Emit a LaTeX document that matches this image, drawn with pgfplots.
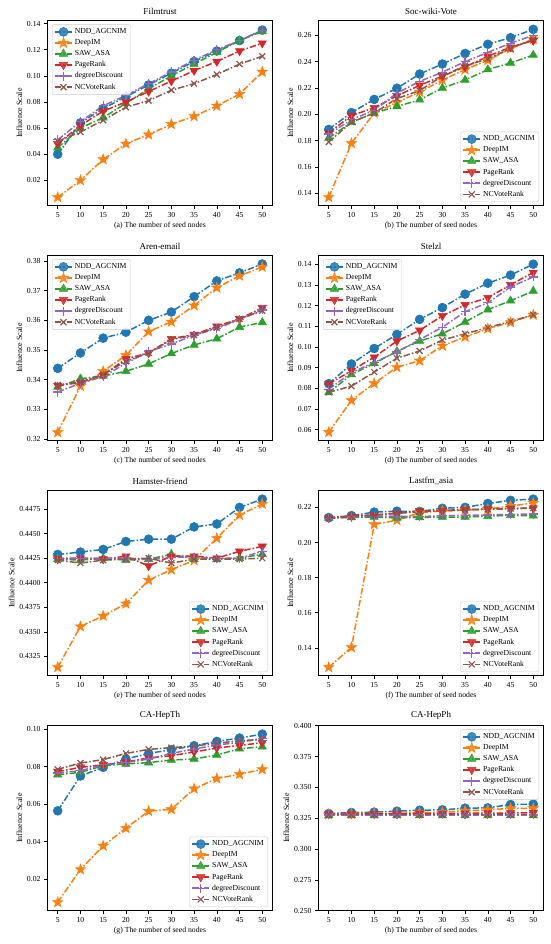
\documentclass[border=0pt]{standalone}
\usepackage{fontspec}
\setmainfont{Liberation Serif}
\usepackage{pgfplots}
\pgfplotsset{compat=1.18}
\usepgfplotslibrary{groupplots}
\usetikzlibrary{calc,plotmarks}
\definecolor{c0}{HTML}{1F77B4}
\definecolor{c1}{HTML}{FF7F0E}
\definecolor{c2}{HTML}{2CA02C}
\definecolor{c3}{HTML}{D62728}
\definecolor{c4}{HTML}{9467BD}
\definecolor{c5}{HTML}{8C564B}
\pgfdeclareplotmark{fstar}{%
  \pgfpathmoveto{\pgfpointpolar{90}{1.25\pgfplotmarksize}}%
  \pgfpathlineto{\pgfpointpolar{126}{0.5\pgfplotmarksize}}%
  \pgfpathlineto{\pgfpointpolar{162}{1.25\pgfplotmarksize}}%
  \pgfpathlineto{\pgfpointpolar{198}{0.5\pgfplotmarksize}}%
  \pgfpathlineto{\pgfpointpolar{234}{1.25\pgfplotmarksize}}%
  \pgfpathlineto{\pgfpointpolar{270}{0.5\pgfplotmarksize}}%
  \pgfpathlineto{\pgfpointpolar{306}{1.25\pgfplotmarksize}}%
  \pgfpathlineto{\pgfpointpolar{342}{0.5\pgfplotmarksize}}%
  \pgfpathlineto{\pgfpointpolar{18}{1.25\pgfplotmarksize}}%
  \pgfpathlineto{\pgfpointpolar{54}{0.5\pgfplotmarksize}}%
  \pgfpathclose\pgfusepathqfillstroke}
\tikzset{dd/.style={line width=1.5pt, dash pattern=on 6.5pt off 2pt on 1.5pt off 2pt}}
\pgfplotsset{
  sA/.style={c0, dd, mark=*, mark size=4.5pt, mark options={solid, fill=c0, line width=0.5pt}},
  sB/.style={c1, dd, mark=fstar, mark size=4.4pt, mark options={solid, fill=c1, line width=0.5pt}},
  sC/.style={c2, dd, mark=triangle*, mark size=4.8pt, mark options={solid, fill=c2, line width=0.5pt}},
  sD/.style={c3, dd, mark=triangle*, mark size=4.8pt, mark options={solid, fill=c3, rotate=180, line width=0.5pt}},
  sE/.style={c4, dd, mark=+, mark size=4.5pt, mark options={solid, line width=1.2pt}},
  sF/.style={c5, dd, mark=x, mark size=4.2pt, mark options={solid, line width=1.2pt}},
  lnw/.style={legend style={at={(0.02,0.98)}, anchor=north west}},
  lse/.style={legend style={at={(0.98,0.02)}, anchor=south east}},
  lne/.style={legend style={at={(0.98,0.98)}, anchor=north east}},
  prec/.style={yticklabel style={/pgf/number format/.cd, fixed, fixed zerofill, precision=#1}},
}
\begin{document}
\begin{tikzpicture}[font=\fontsize{7.7}{9}\selectfont]
\begin{groupplot}[
  group style={group size=2 by 4, horizontal sep=46pt, vertical sep=50pt},
  width=225pt, height=185pt, scale only axis,
  xmin=2.75, xmax=52.25, xtick={5,10,...,50},
  tick align=outside, tick pos=left, major tick length=3.5pt,
  every tick/.style={black, line width=0.6pt},
  axis line style={line width=0.7pt},
  ticklabel style={font=\fontsize{7.7}{9}\selectfont},
  /pgf/number format/assume math mode=true,
  scaled y ticks=false,
  title style={font=\fontsize{9}{10}\selectfont, yshift=-3pt},
  xlabel style={font=\fontsize{7.7}{9}\selectfont, yshift=3pt},
  ylabel style={font=\fontsize{8}{9}\selectfont, yshift=-2pt},
  ylabel={Influence Scale},
  legend style={font=\fontsize{7.7}{9}\selectfont, draw=black!20, rounded corners=2pt,
    fill=white, fill opacity=0.85, text opacity=1, inner sep=2pt, row sep=0.3pt,
    cells={anchor=west}},
  legend cell align=left,
]
% (a) Filmtrust
\nextgroupplot[title={Filmtrust}, xlabel={(a) The number of seed nodes}, ymin=0.0006, ymax=0.1422,
  ytick={0.02,0.04,...,0.141}, prec=2, lnw]
\addplot[sA] coordinates {(5,0.040)(10,0.064)(15,0.075)(20,0.084)(25,0.093)(30,0.102)(35,0.111)(40,0.119)(45,0.127)(50,0.135)};
\addplot[sB] coordinates {(5,0.007)(10,0.020)(15,0.036)(20,0.048)(25,0.055)(30,0.063)(35,0.069)(40,0.077)(45,0.086)(50,0.103)};
\addplot[sC] coordinates {(5,0.045)(10,0.060)(15,0.068)(20,0.079)(25,0.090)(30,0.100)(35,0.109)(40,0.118)(45,0.127)(50,0.134)};
\addplot[sD] coordinates {(5,0.048)(10,0.062)(15,0.073)(20,0.080)(25,0.088)(30,0.096)(35,0.104)(40,0.111)(45,0.119)(50,0.125)};
\addplot[sE] coordinates {(5,0.051)(10,0.065)(15,0.077)(20,0.085)(25,0.094)(30,0.103)(35,0.112)(40,0.120)(45,0.127)(50,0.135)};
\addplot[sF] coordinates {(5,0.050)(10,0.057)(15,0.066)(20,0.076)(25,0.081)(30,0.089)(35,0.094)(40,0.101)(45,0.109)(50,0.115)};
\legend{NDD\_AGCNIM,DeepIM,SAW\_ASA,PageRank,degreeDiscount,NCVoteRank}
% (b) Soc-wiki-Vote
\nextgroupplot[title={Soc-wiki-Vote}, xlabel={(b) The number of seed nodes}, ymin=0.1306, ymax=0.2711,
  ytick={0.14,0.16,...,0.261}, prec=2, lse]
\addplot[sA] coordinates {(5,0.1885)(10,0.2013)(15,0.2113)(20,0.2198)(25,0.2306)(30,0.2382)(35,0.2462)(40,0.2532)(45,0.2582)(50,0.2645)};
\addplot[sB] coordinates {(5,0.137)(10,0.178)(15,0.201)(20,0.209)(25,0.217)(30,0.226)(35,0.234)(40,0.241)(45,0.250)(50,0.257)};
\addplot[sC] coordinates {(5,0.182)(10,0.194)(15,0.201)(20,0.206)(25,0.211)(30,0.220)(35,0.226)(40,0.234)(45,0.239)(50,0.245)};
\addplot[sD] coordinates {(5,0.186)(10,0.199)(15,0.205)(20,0.214)(25,0.222)(30,0.229)(35,0.236)(40,0.244)(45,0.251)(50,0.256)};
\addplot[sE] coordinates {(5,0.185)(10,0.196)(15,0.203)(20,0.216)(25,0.225)(30,0.232)(35,0.240)(40,0.247)(45,0.254)(50,0.260)};
\addplot[sF] coordinates {(5,0.179)(10,0.194)(15,0.201)(20,0.212)(25,0.218)(30,0.229)(35,0.237)(40,0.242)(45,0.250)(50,0.257)};
\legend{NDD\_AGCNIM,DeepIM,SAW\_ASA,PageRank,degreeDiscount,NCVoteRank}
% (c) Aren-email
\nextgroupplot[title={Aren-email}, xlabel={(c) The number of seed nodes}, ymin=0.3194, ymax=0.3818,
  ytick={0.32,0.33,...,0.381}, prec=2, lnw]
\addplot[sA] coordinates {(5,0.3438)(10,0.3490)(15,0.3540)(20,0.3560)(25,0.3600)(30,0.3628)(35,0.3680)(40,0.3733)(45,0.3760)(50,0.3790)};
\addplot[sB] coordinates {(5,0.3222)(10,0.3378)(15,0.3428)(20,0.3482)(25,0.3562)(30,0.3595)(35,0.3650)(40,0.3710)(45,0.3750)(50,0.3780)};
\addplot[sC] coordinates {(5,0.3375)(10,0.3403)(15,0.3412)(20,0.3428)(25,0.3453)(30,0.3488)(35,0.3517)(40,0.3538)(45,0.3577)(50,0.3593)};
\addplot[sD] coordinates {(5,0.3380)(10,0.3390)(15,0.3415)(20,0.3470)(25,0.3490)(30,0.3538)(35,0.3552)(40,0.3580)(45,0.3605)(50,0.3642)};
\addplot[sE] coordinates {(5,0.3358)(10,0.3388)(15,0.3410)(20,0.3455)(25,0.3495)(30,0.3520)(35,0.3550)(40,0.3572)(45,0.3603)(50,0.3635)};
\addplot[sF] coordinates {(5,0.3382)(10,0.3392)(15,0.3418)(20,0.3462)(25,0.3490)(30,0.3535)(35,0.3550)(40,0.3575)(45,0.3605)(50,0.3632)};
\legend{NDD\_AGCNIM,DeepIM,SAW\_ASA,PageRank,degreeDiscount,NCVoteRank}
% (d) Stelzl
\nextgroupplot[title={Stelzl}, xlabel={(d) The number of seed nodes}, ymin=0.0546, ymax=0.1441,
  ytick={0.06,0.07,...,0.141}, prec=2, lnw]
\addplot[sA] coordinates {(5,0.0822)(10,0.0917)(15,0.0992)(20,0.1060)(25,0.1133)(30,0.1190)(35,0.1255)(40,0.1308)(45,0.1347)(50,0.1400)};
\addplot[sB] coordinates {(5,0.0587)(10,0.0741)(15,0.0823)(20,0.0901)(25,0.0933)(30,0.1005)(35,0.1048)(40,0.1088)(45,0.1118)(50,0.1155)};
\addplot[sC] coordinates {(5,0.0779)(10,0.0866)(15,0.0920)(20,0.0978)(25,0.1028)(30,0.1063)(35,0.1120)(40,0.1180)(45,0.1223)(50,0.1270)};
\addplot[sD] coordinates {(5,0.0820)(10,0.0885)(15,0.0950)(20,0.1028)(25,0.1080)(30,0.1150)(35,0.1203)(40,0.1238)(45,0.1300)(50,0.1360)};
\addplot[sE] coordinates {(5,0.0795)(10,0.0875)(15,0.0925)(20,0.0975)(25,0.1035)(30,0.1095)(35,0.1170)(40,0.1213)(45,0.1290)(50,0.1338)};
\addplot[sF] coordinates {(5,0.0780)(10,0.0810)(15,0.0878)(20,0.0945)(25,0.0980)(30,0.1033)(35,0.1063)(40,0.1093)(45,0.1123)(50,0.1155)};
\legend{NDD\_AGCNIM,DeepIM,SAW\_ASA,PageRank,degreeDiscount,NCVoteRank}
% (e) Hamster-friend
\nextgroupplot[title={Hamster-friend}, xlabel={(e) The number of seed nodes}, ymin=0.43053, ymax=0.44937,
  ytick={0.4325,0.4350,0.4375,0.4400,0.4425,0.4450,0.4475}, prec=4, lse]
\addplot[sA] coordinates {(5,0.44288)(10,0.44312)(15,0.44339)(20,0.44420)(25,0.44443)(30,0.44443)(35,0.44568)(40,0.44598)(45,0.44767)(50,0.44851)};
\addplot[sB] coordinates {(5,0.43139)(10,0.43554)(15,0.43662)(20,0.43786)(25,0.44026)(30,0.44133)(35,0.44228)(40,0.44453)(45,0.44689)(50,0.44801)};
\addplot[sC] coordinates {(5,0.4424)(10,0.4423)(15,0.4425)(20,0.4423)(25,0.4424)(30,0.4429)(35,0.4424)(40,0.4424)(45,0.4425)(50,0.4429)};
\addplot[sD] coordinates {(5,0.4424)(10,0.4425)(15,0.4424)(20,0.4427)(25,0.4417)(30,0.4427)(35,0.4427)(40,0.4425)(45,0.4432)(50,0.4437)};
\addplot[sE] coordinates {(5,0.4425)(10,0.4425)(15,0.4425)(20,0.4425)(25,0.4424)(30,0.4426)(35,0.4426)(40,0.4425)(45,0.4425)(50,0.4432)};
\addplot[sF] coordinates {(5,0.4423)(10,0.4420)(15,0.4423)(20,0.4424)(25,0.4425)(30,0.4420)(35,0.4424)(40,0.4424)(45,0.4424)(50,0.4425)};
\legend{NDD\_AGCNIM,DeepIM,SAW\_ASA,PageRank,degreeDiscount,NCVoteRank}
% (f) Lastfm_asia
\nextgroupplot[title={Lastfm\_asia}, xlabel={(f) The number of seed nodes}, ymin=0.1242, ymax=0.2295,
  ytick={0.14,0.16,...,0.221}, prec=2, lse]
\addplot[sA] coordinates {(5,0.2142)(10,0.2153)(15,0.2173)(20,0.2178)(25,0.2177)(30,0.2195)(35,0.2200)(40,0.2222)(45,0.2240)(50,0.2247)};
\addplot[sB] coordinates {(5,0.1290)(10,0.1403)(15,0.2103)(20,0.2127)(25,0.2170)(30,0.2180)(35,0.2185)(40,0.2190)(45,0.2208)(50,0.2225)};
\addplot[sC] coordinates {(5,0.2140)(10,0.2143)(15,0.2145)(20,0.2140)(25,0.2143)(30,0.2145)(35,0.2145)(40,0.2150)(45,0.2155)(50,0.2152)};
\addplot[sD] coordinates {(5,0.2140)(10,0.2150)(15,0.2158)(20,0.2165)(25,0.2180)(30,0.2180)(35,0.2185)(40,0.2190)(45,0.2193)(50,0.2195)};
\addplot[sE] coordinates {(5,0.2137)(10,0.2145)(15,0.2150)(20,0.2150)(25,0.2148)(30,0.2152)(35,0.2155)(40,0.2157)(45,0.2160)(50,0.2162)};
\addplot[sF] coordinates {(5,0.2138)(10,0.2148)(15,0.2155)(20,0.2168)(25,0.2175)(30,0.2183)(35,0.2188)(40,0.2190)(45,0.2193)(50,0.2197)};
\legend{NDD\_AGCNIM,DeepIM,SAW\_ASA,PageRank,degreeDiscount,NCVoteRank}
% (g) CA-HepTh
\nextgroupplot[title={CA-HepTh}, xlabel={(g) The number of seed nodes}, ymin=0.0031, ymax=0.1018,
  ytick={0.02,0.04,...,0.101}, prec=2, lse]
\addplot[sA] coordinates {(5,0.0564)(10,0.0750)(15,0.0796)(20,0.0840)(25,0.0870)(30,0.0890)(35,0.0911)(40,0.0934)(45,0.0952)(50,0.0973)};
\addplot[sB] coordinates {(5,0.0076)(10,0.0251)(15,0.0377)(20,0.0471)(25,0.0562)(30,0.0572)(35,0.0682)(40,0.0736)(45,0.0759)(50,0.0785)};
\addplot[sC] coordinates {(5,0.0757)(10,0.0769)(15,0.0805)(20,0.0814)(25,0.0821)(30,0.0835)(35,0.0840)(40,0.0862)(45,0.0895)(50,0.0906)};
\addplot[sD] coordinates {(5,0.0773)(10,0.0796)(15,0.0809)(20,0.0825)(25,0.0846)(30,0.0858)(35,0.0878)(40,0.0899)(45,0.0913)(50,0.0927)};
\addplot[sE] coordinates {(5,0.0766)(10,0.0778)(15,0.0809)(20,0.0821)(25,0.0840)(30,0.0870)(35,0.0894)(40,0.0915)(45,0.0929)(50,0.0950)};
\addplot[sF] coordinates {(5,0.0785)(10,0.0819)(15,0.0837)(20,0.0870)(25,0.0892)(30,0.0901)(35,0.0910)(40,0.0924)(45,0.0938)(50,0.0945)};
\legend{NDD\_AGCNIM,DeepIM,SAW\_ASA,PageRank,degreeDiscount,NCVoteRank}
% (h) CA-HepPh
\nextgroupplot[title={CA-HepPh}, xlabel={(h) The number of seed nodes}, ymin=0.25, ymax=0.40,
  ytick={0.250,0.275,0.300,0.325,0.350,0.375,0.400}, prec=3, lne]
\addplot[sA] coordinates {(5,0.3288)(10,0.3296)(15,0.3299)(20,0.3307)(25,0.3315)(30,0.3318)(35,0.3331)(40,0.3334)(45,0.3361)(50,0.3364)};
\addplot[sB] coordinates {(5,0.3280)(10,0.3285)(15,0.3288)(20,0.3290)(25,0.3295)(30,0.3300)(35,0.3310)(40,0.3318)(45,0.3330)(50,0.3330)};
\addplot[sC] coordinates {(5,0.3273)(10,0.3273)(15,0.3273)(20,0.3273)(25,0.3273)(30,0.3273)(35,0.3273)(40,0.3273)(45,0.3273)(50,0.3273)};
\addplot[sD] coordinates {(5,0.3283)(10,0.3283)(15,0.3285)(20,0.3285)(25,0.3288)(30,0.3288)(35,0.3290)(40,0.3292)(45,0.3292)(50,0.3295)};
\addplot[sE] coordinates {(5,0.3276)(10,0.3276)(15,0.3276)(20,0.3276)(25,0.3276)(30,0.3276)(35,0.3276)(40,0.3276)(45,0.3276)(50,0.3276)};
\addplot[sF] coordinates {(5,0.3278)(10,0.3278)(15,0.3278)(20,0.3278)(25,0.3278)(30,0.3278)(35,0.3278)(40,0.3278)(45,0.3278)(50,0.3278)};
\legend{NDD\_AGCNIM,DeepIM,SAW\_ASA,PageRank,degreeDiscount,NCVoteRank}
\end{groupplot}
\pgfresetboundingbox
\path[use as bounding box] ($(group c1r1.north west)+(-47.5pt,20.7pt)$) rectangle ++(550pt,-944pt);
\end{tikzpicture}
\end{document}
